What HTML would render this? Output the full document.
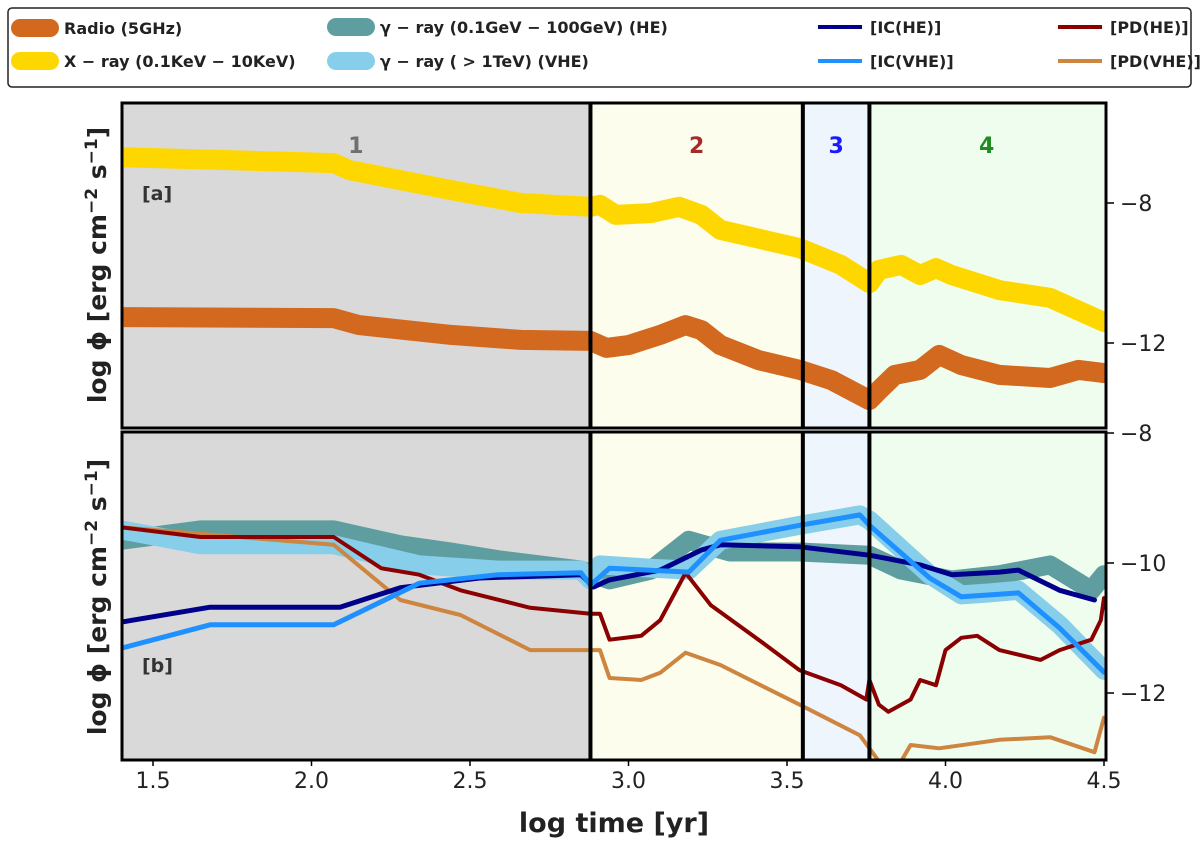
<!DOCTYPE html>
<html><head><meta charset="utf-8">
<style>
body{margin:0;background:#fff;font-family:"Liberation Sans","DejaVu Sans",sans-serif;}
svg text{font-family:"DejaVu Sans","Liberation Sans",sans-serif;}
</style></head>
<body>
<svg id="chart" width="1200" height="846" viewBox="0 0 1200 846" xmlns="http://www.w3.org/2000/svg"></svg>
<script>
const xTicks=[1.5,2.0,2.5,3.0,3.5,4.0,4.5];
const aTicks=[-8,-12];
const bTicks=[-8,-10,-12];
const regionBounds=[1.4,2.88,3.55,3.76,4.5];
const regionLabels=["1","2","3","4"];
const xrayT=[1.4,2.07,2.12,2.44,2.66,2.88,2.91,2.96,3.07,3.16,3.23,3.29,3.54,3.67,3.76,3.79,3.86,3.92,3.97,4.02,4.17,4.33,4.5];
const xrayV=[-6.69,-6.86,-7.06,-7.63,-8.0,-8.11,-8.05,-8.34,-8.29,-8.11,-8.34,-8.77,-9.29,-9.77,-10.29,-9.91,-9.77,-10.06,-9.86,-10.06,-10.49,-10.71,-11.4];
const radioT=[1.4,2.07,2.15,2.44,2.66,2.88,2.93,3.0,3.1,3.18,3.23,3.29,3.41,3.54,3.64,3.76,3.79,3.84,3.92,3.98,4.05,4.17,4.33,4.42,4.5];
const radioV=[-11.26,-11.29,-11.49,-11.77,-11.91,-11.94,-12.14,-12.06,-11.77,-11.49,-11.63,-12.06,-12.49,-12.77,-13.06,-13.63,-13.35,-12.91,-12.77,-12.34,-12.63,-12.91,-13.0,-12.77,-12.86];
const heT=[1.4,1.65,2.07,2.28,2.44,2.59,2.85,2.94,3.07,3.19,3.32,3.54,3.76,3.86,4.02,4.17,4.33,4.46,4.5];
const heV=[-9.65,-9.49,-9.49,-9.72,-9.83,-9.95,-10.11,-10.26,-10.11,-9.65,-9.83,-9.83,-9.88,-10.11,-10.26,-10.18,-10.03,-10.42,-10.18];
const vheT=[1.4,1.65,2.07,2.34,2.59,2.78,2.85,2.88,2.91,3.07,3.19,3.29,3.54,3.73,3.76,3.95,4.05,4.14,4.23,4.36,4.5];
const vheV=[-9.49,-9.72,-9.72,-10.03,-10.11,-10.11,-10.11,-10.26,-10.03,-10.08,-10.11,-9.65,-9.42,-9.26,-9.34,-10.18,-10.49,-10.46,-10.42,-10.95,-11.65];
const icheT=[1.4,1.68,2.09,2.28,2.53,2.85,2.89,2.94,3.1,3.23,3.29,3.54,3.76,3.92,4.02,4.17,4.23,4.36,4.47];
const icheV=[-10.91,-10.68,-10.68,-10.38,-10.23,-10.18,-10.37,-10.26,-10.11,-9.8,-9.72,-9.75,-9.88,-10.03,-10.18,-10.14,-10.11,-10.42,-10.57];
const icvheT=[1.4,1.68,2.07,2.34,2.59,2.85,2.88,2.94,3.19,3.29,3.54,3.73,3.76,3.95,4.05,4.14,4.23,4.36,4.5];
const icvheV=[-11.31,-10.95,-10.95,-10.31,-10.18,-10.15,-10.34,-10.08,-10.14,-9.65,-9.42,-9.26,-9.42,-10.23,-10.52,-10.49,-10.46,-11.0,-11.68];
const pdheT=[1.4,1.65,2.07,2.22,2.34,2.47,2.69,2.88,2.91,2.94,3.04,3.1,3.18,3.26,3.41,3.54,3.67,3.75,3.76,3.79,3.82,3.89,3.92,3.97,4.0,4.05,4.1,4.17,4.3,4.36,4.46,4.49,4.5];
const pdheV=[-9.45,-9.6,-9.6,-10.08,-10.18,-10.42,-10.69,-10.78,-10.78,-11.18,-11.12,-10.88,-10.15,-10.65,-11.18,-11.65,-11.88,-12.1,-11.8,-12.18,-12.29,-12.1,-11.8,-11.88,-11.34,-11.15,-11.12,-11.34,-11.49,-11.34,-11.18,-10.88,-10.54];
const pdvheT=[1.4,2.07,2.28,2.47,2.69,2.88,2.91,2.94,3.04,3.1,3.18,3.29,3.54,3.73,3.79,3.86,3.89,3.98,4.17,4.33,4.47,4.5];
const pdvheV=[-9.45,-9.72,-10.57,-10.8,-11.34,-11.34,-11.34,-11.77,-11.8,-11.69,-11.38,-11.57,-12.18,-12.65,-13.05,-13.05,-12.8,-12.85,-12.72,-12.68,-12.91,-12.38];

const X0=122,X1=1106;
const xs=t=>153+(t-1.5)*317;
const ya=v=>203-(v+8)*35;
const yb=v=>433-(v+8)*65;
const NS="http://www.w3.org/2000/svg";
const svg=document.getElementById('chart');
function el(tag,attrs,parent){const e=document.createElementNS(NS,tag);for(const k in attrs)e.setAttribute(k,attrs[k]);(parent||svg).appendChild(e);return e;}
function txt(s,attrs,parent){const e=el('text',attrs,parent);e.textContent=s;return e;}
const panels=[{top:103,bot:428,y:ya,ticks:aTicks,name:'a'},{top:432,bot:760,y:yb,ticks:bTicks,name:'b'}];
const regColors=['#d9d9d9','#fdfded','#eef5fd','#effdef'];
const regText=['#707070','#a52a2a','#1a1aff','#228b22'];
const defs=el('defs',{});
panels.forEach((p,pi)=>{
  const cp=el('clipPath',{id:'clip'+pi},defs);
  el('rect',{x:X0,y:p.top,width:X1-X0,height:p.bot-p.top},cp);
  const g=el('g',{'clip-path':'url(#clip'+pi+')'});
  
  
  for(let i=0;i<4;i++){
    const r=el('rect',{x:xs(regionBounds[i]),y:p.top,width:xs(regionBounds[i+1])-xs(regionBounds[i]),height:p.bot-p.top,fill:regColors[i]},g);
    
    
  }
  p.g=g;
});
function line(g,T,V,yf,color,w,name){
  const d=T.map((t,i)=>(i?'L':'M')+xs(t).toFixed(1)+','+yf(V[i]).toFixed(1)).join(' ');
  const e=el('path',{d:d,fill:'none',stroke:color,'stroke-width':w,'stroke-linejoin':'round','stroke-linecap':'round'},g);
  
  
}
line(panels[0].g,xrayT,xrayV,ya,'#ffd700',20,'xray-line');
line(panels[0].g,radioT,radioV,ya,'#d2691e',20,'radio-line');
line(panels[1].g,heT,heV,yb,'#5f9ea0',19,'gamma-he-line');
line(panels[1].g,vheT,vheV,yb,'#87ceeb',19,'gamma-vhe-line');
line(panels[1].g,pdvheT,pdvheV,yb,'#cd853f',4,'pd-vhe-line');
line(panels[1].g,pdheT,pdheV,yb,'#8b0000',4,'pd-he-line');
line(panels[1].g,icheT,icheV,yb,'#00008b',5,'ic-he-line');
line(panels[1].g,icvheT,icvheV,yb,'#1e90ff',5,'ic-vhe-line');
panels.forEach((p,pi)=>{
  [1,2,3].forEach(i=>{const l=el('line',{x1:xs(regionBounds[i]),x2:xs(regionBounds[i]),y1:p.top,y2:p.bot,stroke:'#000','stroke-width':4});
    });
  const f=el('rect',{x:X0,y:p.top,width:X1-X0,height:p.bot-p.top,fill:'none',stroke:'#000','stroke-width':3});
  
  p.ticks.forEach(v=>{
    const yy=p.y(v);
    el('line',{x1:X1,x2:X1+8,y1:yy,y2:yy,stroke:'#000','stroke-width':1.5});
    const t=txt('\u2212'+Math.abs(v),{x:X1+14,y:yy+8,'font-size':22,fill:'#222'});
    
  });
});
for(let i=0;i<4;i++){
  const t=txt(regionLabels[i],{x:(xs(regionBounds[i])+xs(regionBounds[i+1]))/2,y:153,'font-size':22,'font-weight':'bold',fill:regText[i],'text-anchor':'middle'});
  
}
txt('[a]',{x:142,y:200,'font-size':19,'font-weight':'bold',fill:'#333'});
txt('[b]',{x:142,y:672,'font-size':19,'font-weight':'bold',fill:'#333'});
xTicks.forEach(v=>{
  el('line',{x1:xs(v),x2:xs(v),y1:760,y2:766,stroke:'#000','stroke-width':1.5});
  const t=txt(v.toFixed(1),{x:xs(v),y:788,'font-size':22,fill:'#222','text-anchor':'middle'});
  
});
const xl=txt('log time [yr]',{x:614,y:832,'font-size':27,'font-weight':'bold',fill:'#222','text-anchor':'middle'});

[[265,'y-axis-title-a'],[597,'y-axis-title-b']].forEach(([cy,n])=>{
  const t=el('text',{x:0,y:0,'font-size':25,'font-weight':'bold',fill:'#222','text-anchor':'middle',transform:'translate(106,'+cy+') rotate(-90)'});
  t.innerHTML='log \u03d5 [erg cm<tspan dy="-9" font-size="17">\u22122</tspan><tspan dy="9"> s</tspan><tspan dy="-9" font-size="17">\u22121</tspan><tspan dy="9">]</tspan>';
  
});
const lg=el('g',{});

el('rect',{x:8,y:8,width:1183,height:79,rx:4,fill:'#fff',stroke:'#222','stroke-width':1.5},lg);
const items=[
 [12,28,'#d2691e',18,'Radio (5GHz)','legend-radio'],
 [12,61,'#ffd700',18,'X \u2212 ray (0.1KeV \u2212 10KeV)','legend-xray'],
 [328,27,'#5f9ea0',18,'\u03b3 \u2212 ray (0.1GeV \u2212 100GeV) (HE)','legend-gamma-he'],
 [328,61,'#87ceeb',18,'\u03b3 \u2212 ray ( > 1TeV) (VHE)','legend-gamma-vhe'],
 [818,27,'#00008b',4,'[IC(HE)]','legend-ic-he'],
 [818,61,'#1e90ff',4,'[IC(VHE)]','legend-ic-vhe'],
 [1058,27,'#8b0000',4,'[PD(HE)]','legend-pd-he'],
 [1058,61,'#cd853f',4,'[PD(VHE)]','legend-pd-vhe']];
items.forEach(([x,y,c,w,s,n])=>{
  const g=el('g',{},lg);
  
  const thick=w>10;
  el('line',{x1:x+(thick?8:0),x2:x+(thick?38:44),y1:y,y2:y,stroke:c,'stroke-width':w,'stroke-linecap':thick?'round':'butt'},g);
  txt(s,{x:x+52,y:y+6,'font-size':16,'font-weight':'bold',fill:'#222'},g);
});
</script>
</body></html>
